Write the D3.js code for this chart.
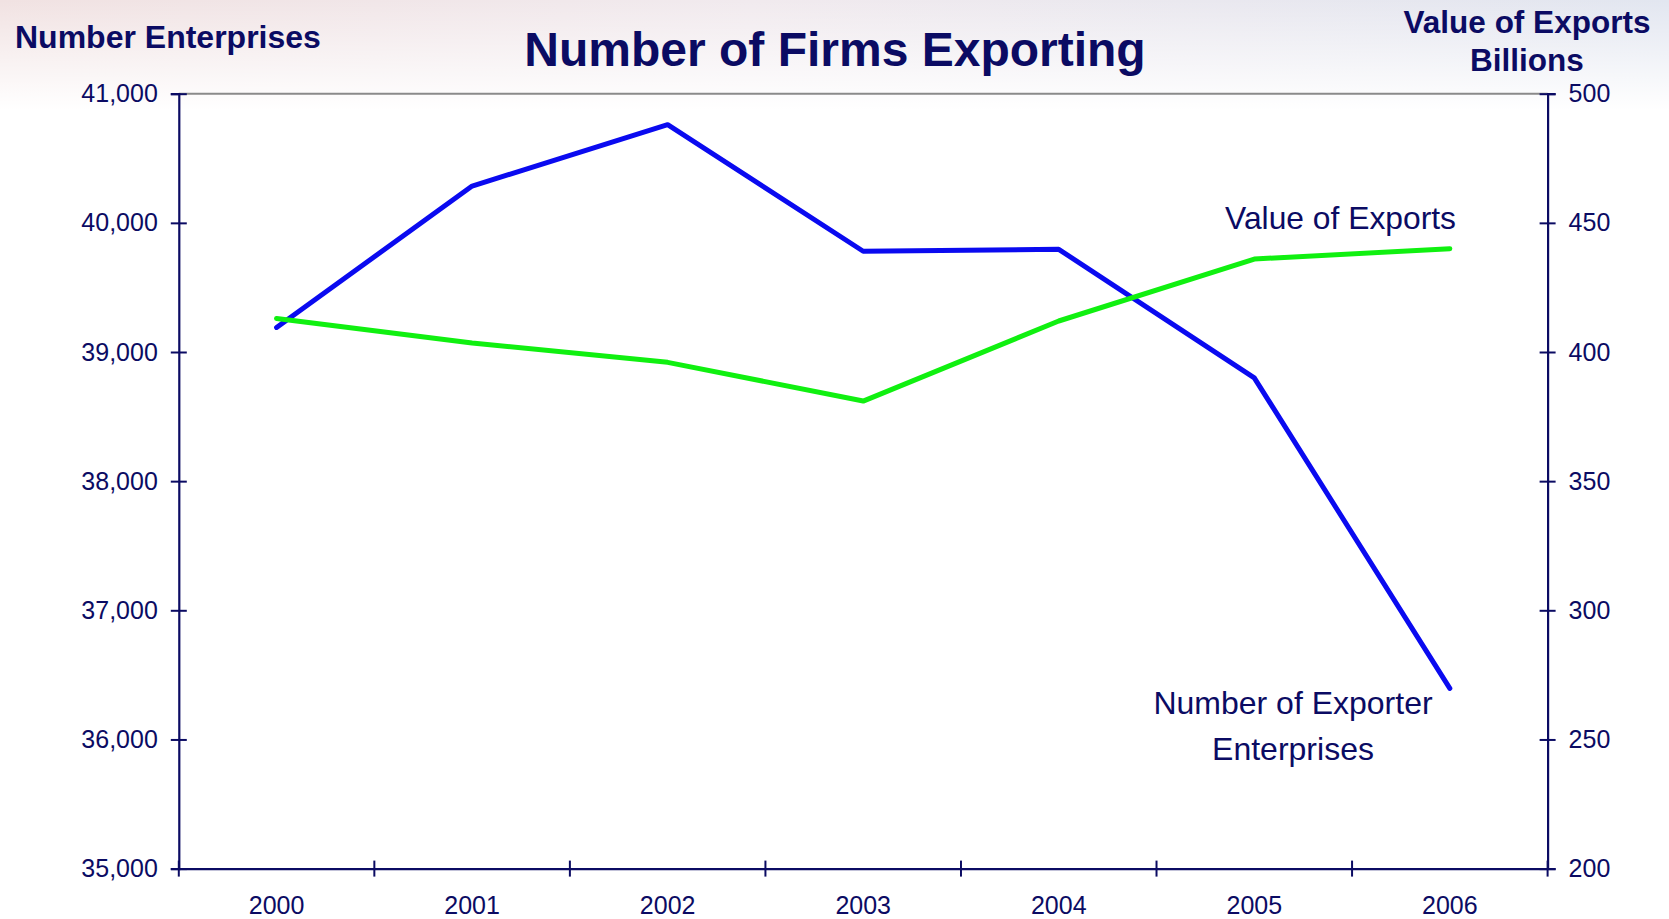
<!DOCTYPE html>
<html>
<head>
<meta charset="utf-8">
<script src="https://cdn.jsdelivr.net/npm/d3@7"></script>
<style>
  html, body { margin: 0; padding: 0; background: #fff; }
  svg { display: block; font-family: "Liberation Sans", Arial, sans-serif; }
</style>
</head>
<body>
<div id="chart"></div>
<script>
// chart data
var years = ["2000", "2001", "2002", "2003", "2004", "2005", "2006"];
var firms = [39190, 40285, 40760, 39780, 39795, 38800, 36395];
var exportsValue = [413, 403.5, 396, 381, 412, 436, 440];
var leftTicks = [35000, 36000, 37000, 38000, 39000, 40000, 41000];
var rightTicks = [200, 250, 300, 350, 400, 450, 500];

var W = 1669, H = 919;
var navy = "#0b0b63";
var margin = { top: 93.7, right: 121.4, bottom: 50.4, left: 178.8 };
var width = W - margin.left - margin.right,
    height = H - margin.top - margin.bottom;

var svg = d3.select("#chart").append("svg")
  .attr("width", W)
  .attr("height", H);

// faint header background
var defs = svg.append("defs");
var gh = defs.append("linearGradient").attr("id", "hgrad")
  .attr("x1", "0").attr("x2", "1").attr("y1", "0").attr("y2", "0");
gh.append("stop").attr("offset", "0").attr("stop-color", "#f1e2e2");
gh.append("stop").attr("offset", "0.45").attr("stop-color", "#f1eaee");
gh.append("stop").attr("offset", "1").attr("stop-color", "#e2e6f0");
var gv = defs.append("linearGradient").attr("id", "vgrad")
  .attr("x1", "0").attr("x2", "0").attr("y1", "0").attr("y2", "1");
gv.append("stop").attr("offset", "0").attr("stop-color", "#fff").attr("stop-opacity", 0);
gv.append("stop").attr("offset", "1").attr("stop-color", "#fff").attr("stop-opacity", 1);

svg.append("rect").attr("width", W).attr("height", 110).attr("fill", "url(#hgrad)");
svg.append("rect").attr("width", W).attr("height", 110).attr("fill", "url(#vgrad)");

var g = svg.append("g")
  .attr("transform", "translate(" + margin.left + "," + margin.top + ")");

var x = d3.scaleBand().domain(years).range([0, width]);
var yL = d3.scaleLinear().domain([35000, 41000]).range([height, 0]);
var yR = d3.scaleLinear().domain([200, 500]).range([height, 0]);
var cx = function (d) { return x(d) + x.bandwidth() / 2; };

// top frame line
g.append("line")
  .attr("x1", 0).attr("x2", width)
  .attr("y1", 0).attr("y2", 0)
  .attr("stroke", "#8a8a8a").attr("stroke-width", 2);

// left axis
var leftAxis = g.append("g")
  .call(d3.axisLeft(yL).tickValues(leftTicks).tickFormat(d3.format(",")).tickSize(8).tickPadding(13));
leftAxis.selectAll(".tick line").attr("x2", -8).attr("x1", 8);

// right axis
var rightAxis = g.append("g")
  .attr("transform", "translate(" + width + ",0)")
  .call(d3.axisRight(yR).tickValues(rightTicks).tickSize(8).tickPadding(13));
rightAxis.selectAll(".tick line").attr("x1", -8).attr("x2", 8);

// bottom axis: labels at band centres, ticks at band edges
var bottomAxis = g.append("g")
  .attr("transform", "translate(0," + height + ")")
  .call(d3.axisBottom(x).tickSize(0).tickPadding(28));
var edges = years.map(function (d) { return x(d); }).concat([x.range()[1]]);
bottomAxis.selectAll(".edge").data(edges).enter().append("line")
  .attr("class", "edge")
  .attr("x1", function (d) { return d; }).attr("x2", function (d) { return d; })
  .attr("y1", -8).attr("y2", 8)
  .attr("stroke", navy).attr("stroke-width", 2);

[leftAxis, rightAxis, bottomAxis].forEach(function (a) {
  a.select(".domain").attr("stroke", navy).attr("stroke-width", 2.2);
  a.selectAll(".tick line").attr("stroke", navy).attr("stroke-width", 2);
  a.selectAll(".tick text")
    .attr("fill", navy)
    .style("font-size", "25px")
    .style("font-family", "'Liberation Sans', Arial, sans-serif");
});

// series lines
var blueLine = d3.line()
  .x(function (d, i) { return cx(years[i]); })
  .y(function (d) { return yL(d); });
var greenLine = d3.line()
  .x(function (d, i) { return cx(years[i]); })
  .y(function (d) { return yR(d); });

g.append("path").datum(firms)
  .attr("d", blueLine)
  .attr("fill", "none")
  .attr("stroke", "#0a0af0")
  .attr("stroke-width", 5)
  .attr("stroke-linecap", "round")
  .attr("stroke-linejoin", "round");

g.append("path").datum(exportsValue)
  .attr("d", greenLine)
  .attr("fill", "none")
  .attr("stroke", "#10f010")
  .attr("stroke-width", 5)
  .attr("stroke-linecap", "round")
  .attr("stroke-linejoin", "round");

// titles
svg.append("text")
  .attr("x", 835).attr("y", 66)
  .attr("text-anchor", "middle")
  .attr("fill", navy)
  .style("font-size", "48px").style("font-weight", "bold")
  .text("Number of Firms Exporting");

svg.append("text")
  .attr("x", 15).attr("y", 48)
  .attr("fill", navy)
  .style("font-size", "32px").style("font-weight", "bold")
  .text("Number Enterprises");

var rt = svg.append("text")
  .attr("text-anchor", "middle")
  .attr("fill", navy)
  .style("font-size", "31.5px").style("font-weight", "bold");
rt.append("tspan").attr("x", 1527).attr("y", 33).text("Value of Exports");
rt.append("tspan").attr("x", 1527).attr("y", 71).text("Billions");

// series annotations
svg.append("text")
  .attr("x", 1456).attr("y", 229)
  .attr("text-anchor", "end")
  .attr("fill", navy)
  .style("font-size", "31.8px")
  .text("Value of Exports");

var an = svg.append("text")
  .attr("text-anchor", "middle")
  .attr("fill", navy)
  .style("font-size", "32px");
an.append("tspan").attr("x", 1293).attr("y", 714).text("Number of Exporter");
an.append("tspan").attr("x", 1293).attr("y", 760).text("Enterprises");
</script>
</body>
</html>
